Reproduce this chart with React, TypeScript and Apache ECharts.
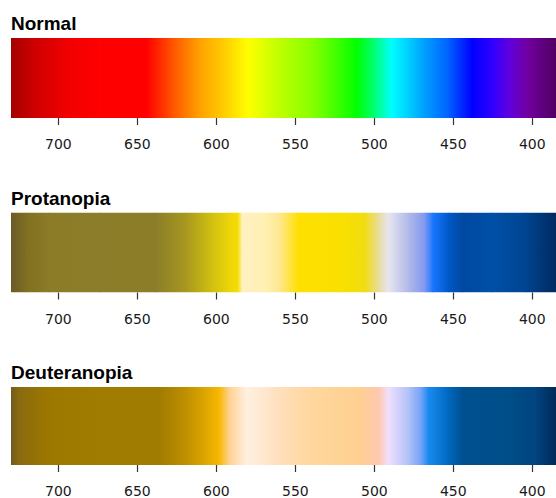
import React, { useEffect, useRef } from "react";
import * as echarts from "echarts";

// Wavelength stops (nm) and the colour read at each stop
const normalWavelengths = [730, 716, 695, 674, 644, 628, 611, 594, 580, 562, 537, 511, 499, 489, 472, 453, 438, 425, 415, 403, 385];
const normalColors = ["#a20000", "#cc0000", "#f00000", "#ff0000", "#ff0000", "#ff5200", "#ffa000", "#ffd000", "#ffff00", "#c4ff00", "#80ff00", "#00ff00", "#00ff80", "#00ffff", "#00b0ff", "#0060ff", "#0000ff", "#3000ff", "#6000e0", "#7000a0", "#500060"];

const protanWavelengths = [730, 720, 706, 674, 638, 619, 603, 590, 586.5, 583.5, 581, 568, 560, 548, 520, 506, 497, 491, 478, 468, 463, 453, 444, 425, 404, 385];
const protanColors = ["#6a5a28", "#807020", "#8c7c28", "#8c7d2a", "#8c7e28", "#a89820", "#d0c010", "#f0d808", "#f5dc00", "#fff2c8", "#fff0c0", "#fff0b0", "#ffe890", "#ffe000", "#f8e000", "#f0dc10", "#e8dca0", "#e6e6f0", "#b0b8e8", "#8098f0", "#1a78ff", "#0058c8", "#0048a0", "#0050a8", "#004490", "#002a60"];

const deuterWavelengths = [730, 725, 706, 674, 636, 619, 606, 598, 592, 581, 568, 563, 542, 510, 497, 491, 478, 470, 466, 453, 444, 415, 398, 385];
const deuterColors = ["#705a20", "#8a6a10", "#9c7800", "#a07c00", "#a07c00", "#c09000", "#e0a800", "#f8b800", "#ffd090", "#fff0e0", "#ffe6cc", "#ffe0c0", "#ffd8a0", "#ffd090", "#ffc8b0", "#f0e0ff", "#b0c0f8", "#70a0f8", "#1a8cf0", "#0068c0", "#005090", "#004e88", "#004480", "#002a58"];

const panelTitles = ["Normal", "Protanopia", "Deuteranopia"];
const tickValues = [700, 650, 600, 550, 500, 450, 400];
const axisMin = 385;
const axisMax = 730;

const spectra = [
  { w: normalWavelengths, c: normalColors },
  { w: protanWavelengths, c: protanColors },
  { w: deuterWavelengths, c: deuterColors },
];

const gridTops = [38, 212.5, 387];
const gridHeight = 80;

export default function App() {
  const ref = useRef<HTMLDivElement>(null);
  useEffect(() => {
    if (!ref.current) return;
    const chart = echarts.init(ref.current, null, { renderer: "svg" });

    const grids = gridTops.map((t) => ({ left: 11, right: 0, top: t, height: gridHeight, containLabel: false }));
    const xAxes = gridTops.map((_, i) => ({
      type: "value",
      gridIndex: i,
      min: axisMin,
      max: axisMax,
      inverse: true,
      axisLine: { show: false },
      splitLine: { show: false },
      axisTick: { show: true, customValues: tickValues, length: 7, lineStyle: { color: "#333", width: 1.2 } },
      axisLabel: { show: true, customValues: tickValues, fontSize: 14, fontFamily: "DejaVu Sans", color: "#1a1a1a", margin: 19 },
    }));
    const yAxes = gridTops.map((_, i) => ({ type: "value", gridIndex: i, min: 0, max: 1, show: false }));

    const series = spectra.map((sp, i) => {
      const data = sp.w.slice(0, -1).map((w, k) => [w, sp.w[k + 1]]);
      return {
        type: "custom",
        xAxisIndex: i,
        yAxisIndex: i,
        clip: true,
        encode: { x: [0, 1] },
        data,
        renderItem: (params: any, api: any) => {
          const k = params.dataIndex;
          const w0 = api.value(0);
          const w1 = api.value(1);
          const p0 = api.coord([w0, 1]);
          const p1 = api.coord([w1, 0]);
          const c0 = sp.c[k];
          const c1 = sp.c[k + 1];
          const leftIsFirst = p0[0] <= p1[0];
          const x = Math.min(p0[0], p1[0]);
          const width = Math.abs(p1[0] - p0[0]);
          return {
            type: "rect",
            shape: { x: x - 0.4, y: p0[1], width: width + 0.8, height: p1[1] - p0[1] },
            style: {
              fill: new echarts.graphic.LinearGradient(0, 0, 1, 0, [
                { offset: 0, color: leftIsFirst ? c0 : c1 },
                { offset: 1, color: leftIsFirst ? c1 : c0 },
              ]),
            },
          };
        },
      };
    });

    const graphic = panelTitles.map((t, i) => ({
      type: "text",
      left: 11,
      top: gridTops[i] - 14 - 10,
      style: { text: t, fontSize: 19, fontWeight: "bold", fontFamily: "Liberation Sans", fill: "#000" },
    }));

    chart.setOption({
      animation: false,
      backgroundColor: "#fff",
      grid: grids,
      xAxis: xAxes,
      yAxis: yAxes,
      series,
      graphic,
    } as any);
    return () => chart.dispose();
  }, []);
  return <div ref={ref} style={{ position: "fixed", left: 0, top: 0, width: 556, height: 498 }} />;
}
